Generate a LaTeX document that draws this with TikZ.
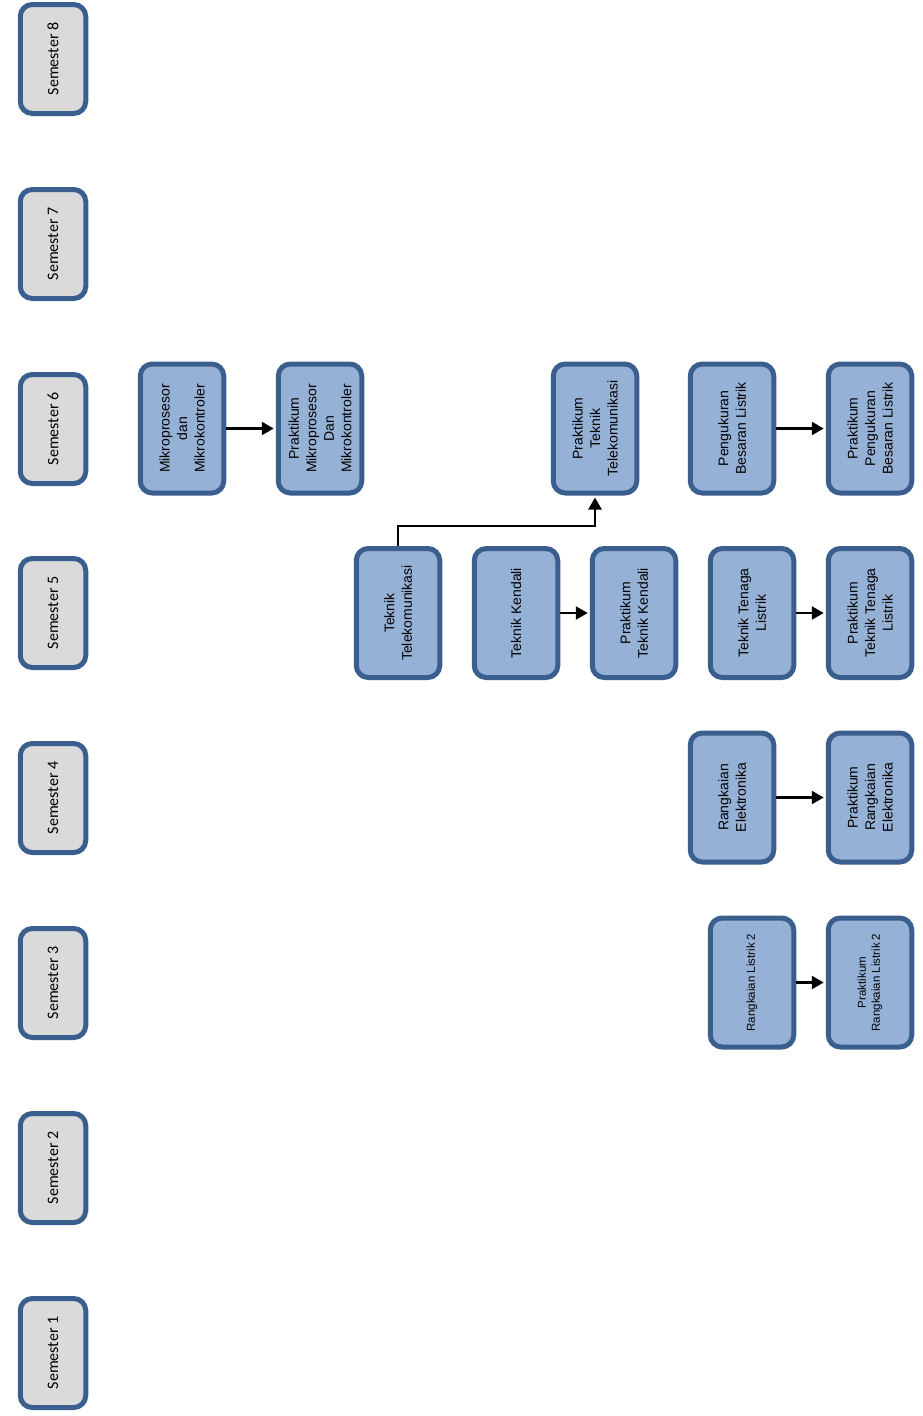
\documentclass[tikz,border=0pt]{standalone}
\usepackage{fontspec}
\setmainfont{Liberation Sans}
\newfontfamily\semfont{Carlito}
\usetikzlibrary{arrows.meta}
\definecolor{bordblue}{HTML}{3A5F8E}
\definecolor{coursefill}{HTML}{95B1D5}
\definecolor{semfill}{HTML}{DADADA}
\tikzset{
  course/.style={draw=bordblue, fill=coursefill, line width=5pt, rounded corners=12pt,
    rotate=90, minimum width=129pt, minimum height=83.5pt, inner sep=2pt, align=center,
    font=\fontsize{14}{17.5}\selectfont},
  smallcourse/.style={course, font=\fontsize{11.5}{14}\selectfont},
  sembox/.style={draw=bordblue, fill=semfill, line width=5pt, rounded corners=12pt,
    rotate=90, minimum width=109pt, minimum height=65.5pt, inner sep=2pt,
    font=\semfont\fontsize{16}{19}\selectfont},
  arr/.style={line width=2.4pt, -{Triangle[length=12pt,width=13pt]}, shorten >=2pt}
}
\begin{document}
\begin{tikzpicture}[x=1pt,y=-1pt]
\useasboundingbox (0,0) rectangle (922,1416);
% semesters
\node[sembox] (s8) at (53,59) {Semester 8};
\node[sembox] (s7) at (53,244) {Semester 7};
\node[sembox] (s6) at (53,429) {Semester 6};
\node[sembox] (s5) at (53,613) {Semester 5};
\node[sembox] (s4) at (53,798) {Semester 4};
\node[sembox] (s3) at (53,983) {Semester 3};
\node[sembox] (s2) at (53,1168) {Semester 2};
\node[sembox] (s1) at (53,1353) {Semester 1};
% semester 6
\node[course] (mik) at (182,428.5) {Mikroprosesor\\dan\\Mikrokontroler};
\node[course] (pmik) at (320,428.5) {Praktikum\\Mikroprosesor\\Dan\\Mikrokontroler};
\node[course] (ptel) at (595,428.5) {Praktikum\\Teknik\\Telekomunikasi};
\node[course] (peng) at (732,428.5) {Pengukuran\\Besaran Listrik};
\node[course] (ppeng) at (870,428.5) {Praktikum\\Pengukuran\\Besaran Listrik};
% semester 5
\node[course] (tel) at (398,613) {Teknik\\Telekomunikasi};
\node[course] (ken) at (516,613) {Teknik Kendali};
\node[course] (pken) at (634,613) {Praktikum\\Teknik Kendali};
\node[course] (ttl) at (752,613) {Teknik Tenaga\\Listrik};
\node[course] (pttl) at (870,613) {Praktikum\\Teknik Tenaga\\Listrik};
% semester 4
\node[course] (re) at (732,797.5) {Rangkaian\\Elektronika};
\node[course] (pre) at (870,797.5) {Praktikum\\Rangkaian\\Elektronika};
% semester 3
\node[smallcourse] (rl) at (752,982.5) {Rangkaian Listrik 2};
\node[smallcourse] (prl) at (870,982.5) {Praktikum\\Rangkaian Listrik 2};
% connectors
\draw[arr] (mik) -- (pmik);
\draw[arr] (peng) -- (ppeng);
\draw[arr] (ken) -- (pken);
\draw[arr] (ttl) -- (pttl);
\draw[arr] (re) -- (pre);
\draw[arr] (rl) -- (prl);
\coordinate (bend) at (398,526);
\draw[arr] (tel.east) -- (bend) -| (ptel.west);
\end{tikzpicture}
\end{document}
